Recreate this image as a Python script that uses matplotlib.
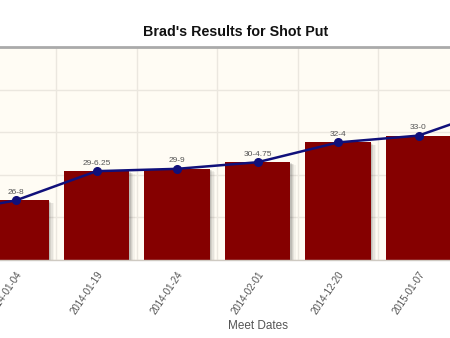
import matplotlib
matplotlib.use("Agg")
import matplotlib.pyplot as plt
import matplotlib.transforms as mtransforms
from matplotlib.ticker import MultipleLocator, FixedLocator

plt.rcParams['font.family'] = ['Liberation Sans', 'DejaVu Sans']

# Meet dates (first and last entries sit outside the visible window)
meet_dates = ["", "2014-01-04", "2014-01-19", "2014-01-24", "2014-02-01",
              "2014-12-20", "2015-01-07", ""]
# Throw distances as feet-inches labels and the same values in inches
distance_labels = ["", "26-8", "29-6.25", "29-9", "30-4.75", "32-4", "33-0", ""]
distance_inches = [303, 320, 354.25, 357, 364.75, 388, 396, 429]

bar_color = "#850000"
line_color = "#10107a"
text_gray = "#555555"
plot_bg = "#fffcf4"
grid_color = "#ebe7df"

fig = plt.figure(figsize=(4.5, 3.38), dpi=100)
W, H = 450, 338
# plot area in pixels: x from -104.75 to 619.75, y from 47 to 260 (top-down)
left_px, right_px, top_px, bottom_px = -104.75, 619.75, 47, 260
ax = fig.add_axes([left_px / W, (H - bottom_px) / H,
                   (right_px - left_px) / W, (bottom_px - top_px) / H])
ax.set_facecolor(plot_bg)

x = list(range(len(meet_dates)))
ax.set_xlim(-0.5, len(meet_dates) + 0.5)
ax.set_ylim(250, 500)

# soft drop shadow behind bars
for i, a in enumerate([0.10, 0.08, 0.06, 0.04]):
    off = mtransforms.ScaledTranslation((1.5 + 1.3 * i) / 100, -(1 + 0.6 * i) / 100,
                                        fig.dpi_scale_trans)
    ax.bar(x, [v - 250 for v in distance_inches], bottom=250, width=0.81,
           color="black", alpha=a, transform=ax.transData + off, zorder=1.5,
           linewidth=0)

ax.bar(x, [v - 250 for v in distance_inches], bottom=250, width=0.81,
       color=bar_color, zorder=2, linewidth=0)

ax.plot(x, distance_inches, color=line_color, linewidth=1.8, marker="o",
        markersize=5.5, zorder=3)

for xi, v, lab in zip(x, distance_inches, distance_labels):
    if lab:
        ax.annotate(lab, (xi, v), xytext=(0, 3.2), textcoords="offset points",
                    ha="center", va="bottom", fontsize=6, color=text_gray, zorder=4)

# grid: vertical lines between categories, horizontal every 50 inches
ax.yaxis.set_major_locator(MultipleLocator(50))
ax.xaxis.set_major_locator(FixedLocator(x))
ax.xaxis.set_minor_locator(FixedLocator([i + 0.5 for i in range(-1, len(meet_dates) + 1)]))
ax.grid(True, which="minor", axis="x", color=grid_color, linewidth=1.0, zorder=0)
ax.grid(True, which="major", axis="y", color=grid_color, linewidth=1.0, zorder=0)
ax.set_axisbelow(True)

ax.set_xticks(x)
ax.set_xticklabels(meet_dates, rotation=56, ha="right", va="top",
                   rotation_mode="anchor", fontsize=7, color=text_gray)
ax.tick_params(axis="x", which="both", length=0, pad=7)
ax.tick_params(axis="y", length=0, labelleft=False)

for s in ["left", "right"]:
    ax.spines[s].set_visible(False)
ax.spines["top"].set_color("#aaaaaa")
ax.spines["top"].set_linewidth(2)
ax.spines["bottom"].set_color("#cfcac2")
ax.spines["bottom"].set_linewidth(1)

ax.set_xlabel("Meet Dates", fontsize=8.5, color=text_gray)
ax.xaxis.set_label_coords(0.5, (bottom_px - 326) / (bottom_px - top_px))
ax.xaxis.label.set_va("center")

fig.text(236 / W, 1 - 31.5 / H, "Brad's Results for Shot Put", ha="center",
         va="center", fontsize=10.3, fontweight="bold", color="#111111")

fig.savefig("out.png", dpi=100)
